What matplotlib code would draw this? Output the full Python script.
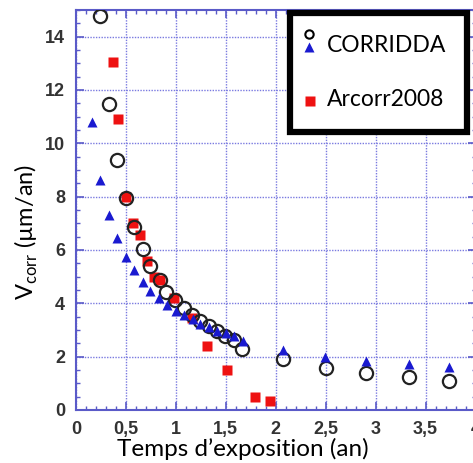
import numpy as np
import matplotlib.pyplot as plt
from matplotlib.patches import Rectangle
from matplotlib.lines import Line2D
from matplotlib.ticker import MultipleLocator, FuncFormatter

# CORRIDDA - open circles
circ_t = [0.245, 0.33, 0.41, 0.505, 0.58, 0.67, 0.745, 0.84, 0.905, 0.995, 1.08, 1.16,
          1.245, 1.33, 1.41, 1.495, 1.58, 1.66, 2.07, 2.5, 2.905, 3.335, 3.735]
circ_v = [14.78, 11.47, 9.37, 7.94, 6.85, 6.04, 5.41, 4.87, 4.44, 4.12, 3.81, 3.56,
          3.35, 3.15, 2.96, 2.79, 2.64, 2.30, 1.90, 1.59, 1.37, 1.23, 1.10]

# CORRIDDA - blue triangles
tri_t = [0.16, 0.245, 0.33, 0.41, 0.505, 0.58, 0.67, 0.745, 0.835, 0.91, 1.0, 1.08,
         1.17, 1.245, 1.335, 1.41, 1.5, 1.58, 1.67, 2.07, 2.495, 2.9, 3.33, 3.73]
tri_v = [10.79, 8.62, 7.31, 6.44, 5.75, 5.25, 4.81, 4.47, 4.19, 3.94, 3.72, 3.56,
         3.40, 3.22, 3.10, 2.97, 2.88, 2.78, 2.59, 2.25, 2.00, 1.84, 1.71, 1.60]

# Arcorr2008 - red squares
sq_t = [0.37, 0.425, 0.505, 0.57, 0.64, 0.71, 0.785, 0.845, 0.98, 1.16, 1.31, 1.51, 1.795, 1.945]
sq_v = [13.06, 10.91, 7.98, 7.0, 6.56, 5.58, 5.0, 4.87, 4.19, 3.44, 2.41, 1.5, 0.5, 0.34]

W, H = 473, 463
fig = plt.figure(figsize=(W / 100, H / 100), dpi=100)
ax = fig.add_axes([76 / W, 1 - 410 / H, (475.5 - 76) / W, 400 / H])

axcol = '#5a5ac8'
ax.plot(sq_t, sq_v, 's', color='#ee1111', ms=7, mec='none', zorder=3)
ax.plot(circ_t, circ_v, 'o', mfc='none', mec='#222222', mew=1.6, ms=9.5, zorder=4)
ax.plot(tri_t, tri_v, '^', color='#1a1ad0', ms=7.5, mec='none', zorder=5)

ax.set_xlim(0, 4)
ax.set_ylim(0, 15)
ax.xaxis.set_major_locator(MultipleLocator(0.5))
ax.xaxis.set_minor_locator(MultipleLocator(0.1))
ax.yaxis.set_major_locator(MultipleLocator(2))
ax.yaxis.set_minor_locator(MultipleLocator(0.5))
ax.xaxis.set_major_formatter(FuncFormatter(lambda v, p: ('%g' % v).replace('.', ',')))
ax.yaxis.set_major_formatter(FuncFormatter(lambda v, p: '%g' % v))
ax.grid(True, which='major', color='#7a7ae0', linestyle=(0, (1, 1)), linewidth=1.0)
ax.tick_params(which='both', direction='in', top=True, right=True, color=axcol,
               labelcolor='#333333', labelsize=13)
ax.tick_params(which='major', length=6, width=1.2, pad=8)
ax.tick_params(which='minor', length=3, width=1.0)
for lab in ax.get_xticklabels() + ax.get_yticklabels():
    lab.set_fontweight('bold')
    lab.set_family('Liberation Sans')
for s in ax.spines.values():
    s.set_color(axcol)
    s.set_linewidth(1.5)

fig.text(243 / W, 1 - 449 / H, 'Temps d\u2019exposition (an)', ha='center', va='center',
         fontsize=17.5, family='Lato')
fig.text(26 / W, 1 - 232 / H, 'V$_{\\mathregular{corr}}$ (\u00b5m/an)', rotation=90,
         ha='center', va='center', fontsize=17, family='Lato')

# legend box
box = Rectangle((290 / W, 1 - 132 / H), 177 / W, 119 / H, transform=fig.transFigure,
                facecolor='white', edgecolor='black', linewidth=4.5, zorder=10)
fig.add_artist(box)
fig.add_artist(Line2D([309 / W], [1 - 34 / H], marker='o', mfc='none', mec='black', mew=1.5,
                      ms=6, transform=fig.transFigure, zorder=11))
fig.add_artist(Line2D([309 / W], [1 - 47 / H], marker='^', color='#1a1ad0', mec='none',
                      ms=7, transform=fig.transFigure, zorder=11))
fig.add_artist(Line2D([310 / W], [1 - 101 / H], marker='s', color='#ee1111', mec='none',
                      ms=7, transform=fig.transFigure, zorder=11))
fig.text(327 / W, 1 - 45 / H, 'CORRIDDA', ha='left', va='center', fontsize=16.5,
         family='Lato', zorder=12)
fig.text(327 / W, 1 - 100 / H, 'Arcorr2008', ha='left', va='center', fontsize=16.5,
         family='Lato', zorder=12)

fig.savefig('out.png', dpi=100)
